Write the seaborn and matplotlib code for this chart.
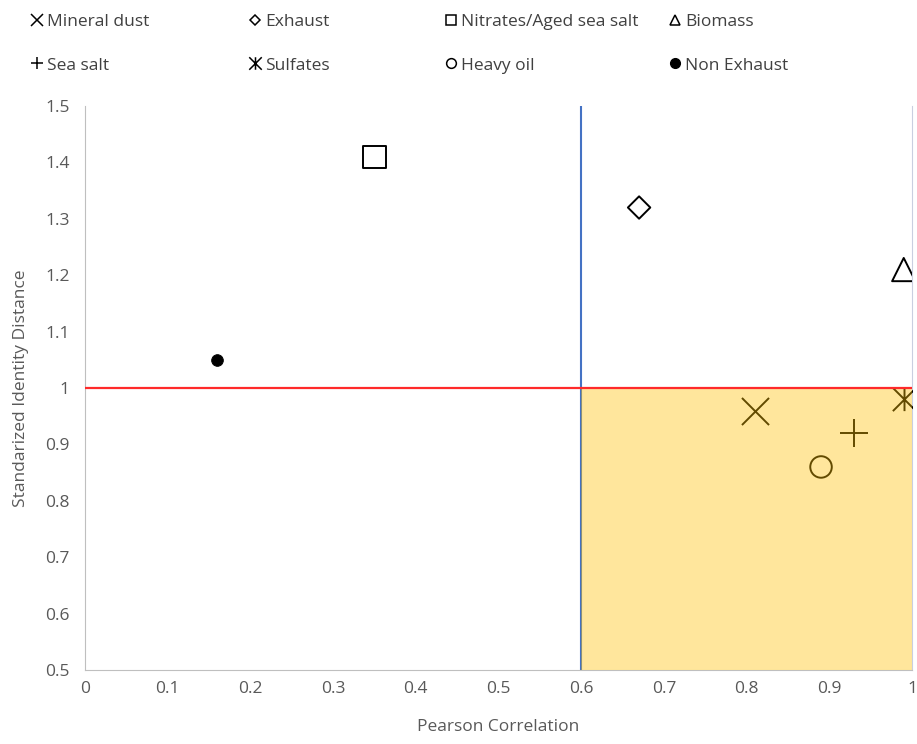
import matplotlib
matplotlib.use("Agg")
import matplotlib.pyplot as plt
import seaborn as sns
import pandas as pd
from matplotlib.lines import Line2D
from matplotlib.path import Path

sources = ["Mineral dust", "Exhaust", "Nitrates/Aged sea salt", "Biomass",
           "Sea salt", "Sulfates", "Heavy oil", "Non Exhaust"]
pearson = [0.81, 0.67, 0.35, 0.99, 0.93, 0.99, 0.89, 0.16]
sid = [0.96, 1.32, 1.41, 1.21, 0.92, 0.98, 0.86, 1.05]

# X with a vertical stroke, like the Excel asterisk marker
asterisk = Path([(-1, -1), (1, 1), (-1, 1), (1, -1), (0, -1), (0, 1)],
                [Path.MOVETO, Path.LINETO, Path.MOVETO, Path.LINETO, Path.MOVETO, Path.LINETO])

marker_map = {
    "Mineral dust": "x",
    "Exhaust": "D",
    "Nitrates/Aged sea salt": "s",
    "Biomass": "^",
    "Sea salt": "+",
    "Sulfates": asterisk,
    "Heavy oil": "o",
    "Non Exhaust": "o",
}
size_map = {
    "Mineral dust": 380, "Exhaust": 130, "Nitrates/Aged sea salt": 260,
    "Biomass": 280, "Sea salt": 380, "Sulfates": 280, "Heavy oil": 240,
    "Non Exhaust": 70,
}
filled = {"Non Exhaust"}
line_markers = {"Mineral dust", "Sea salt", "Sulfates"}

# target zone: good correlation, SID below 1
x_limit = 0.6
sid_limit = 1.0

df = pd.DataFrame({"source": sources, "pearson": pearson, "sid": sid})

sns.set_style("white")
plt.rcParams["font.family"] = ["Open Sans", "DejaVu Sans"]

fig = plt.figure(figsize=(9.17, 7.44), dpi=100)
ax = fig.add_axes([85 / 917, 74 / 744, 827 / 917, 564 / 744])

for _, row in df.iterrows():
    s = row["source"]
    m = marker_map[s]
    if s in filled:
        sns.scatterplot(x=[row["pearson"]], y=[row["sid"]], marker=m, s=size_map[s],
                        color="black", edgecolor="black", ax=ax, zorder=3)
    elif s in line_markers:
        sns.scatterplot(x=[row["pearson"]], y=[row["sid"]], marker=m, s=size_map[s],
                        color="black", edgecolor="black", linewidth=1.4, ax=ax, zorder=3)
    else:
        sns.scatterplot(x=[row["pearson"]], y=[row["sid"]], marker=m, s=size_map[s],
                        facecolor="none", edgecolor="black", linewidth=1.4, ax=ax, zorder=3)

ax.axvline(x_limit, color="#4472C4", lw=1.5, zorder=2)
ax.fill_between([x_limit, 1.0], 0.5, sid_limit, color="#FFC000", alpha=0.39, lw=0, zorder=4)
ax.plot([0, 1.0], [sid_limit, sid_limit], color="#FF2A2A", lw=1.6, zorder=5)

ax.set_xlim(0, 1)
ax.set_ylim(0.5, 1.5)
ax.set_xticks([0, 0.1, 0.2, 0.3, 0.4, 0.5, 0.6, 0.7, 0.8, 0.9, 1])
ax.set_xticklabels(["0", "0.1", "0.2", "0.3", "0.4", "0.5", "0.6", "0.7", "0.8", "0.9", "1"])
ax.set_yticks([0.5, 0.6, 0.7, 0.8, 0.9, 1.0, 1.1, 1.2, 1.3, 1.4, 1.5])
ax.set_yticklabels(["0.5", "0.6", "0.7", "0.8", "0.9", "1", "1.1", "1.2", "1.3", "1.4", "1.5"])
ax.tick_params(axis="both", direction="out", length=5, width=0.8, color="#BFBFBF",
               labelcolor="#595959", labelsize=12.5)
ax.tick_params(axis="x", pad=3)
ax.tick_params(axis="y", pad=6)
for side in ["left", "bottom"]:
    ax.spines[side].set_color("#BFBFBF")
ax.spines["right"].set_color("#C9CFE0")
ax.spines["top"].set_visible(False)
ax.set_xlabel("Pearson Correlation", color="#595959", fontsize=12.5, labelpad=16)
ax.set_ylabel("Standarized Identity Distance", color="#595959", fontsize=12.5, labelpad=12)

# legend laid out in four columns like the original
col_x = [28, 246, 442, 666]
for i in range(4):
    handles = []
    for s in (sources[i], sources[i + 4]):
        m = marker_map[s]
        if s in filled:
            h = Line2D([], [], marker=m, ls="", color="black", markersize=7)
        elif s in line_markers:
            h = Line2D([], [], marker=m, ls="", color="black", markersize=9,
                       markeredgewidth=1.1)
        else:
            h = Line2D([], [], marker=m, ls="", markerfacecolor="none",
                       markeredgecolor="black", markersize=7 if m != "D" else 5.5,
                       markeredgewidth=1.1)
        handles.append((h, s))
    fig.legend([h for h, _ in handles], [l for _, l in handles],
               loc="upper left", bbox_to_anchor=(col_x[i] / 917, 1 - 10 / 744),
               frameon=False, handlelength=0.6, handletextpad=0.3,
               labelspacing=1.6, fontsize=12.5, labelcolor="#404040",
               borderaxespad=0, borderpad=0.2)

fig.savefig("out.png", dpi=100)
